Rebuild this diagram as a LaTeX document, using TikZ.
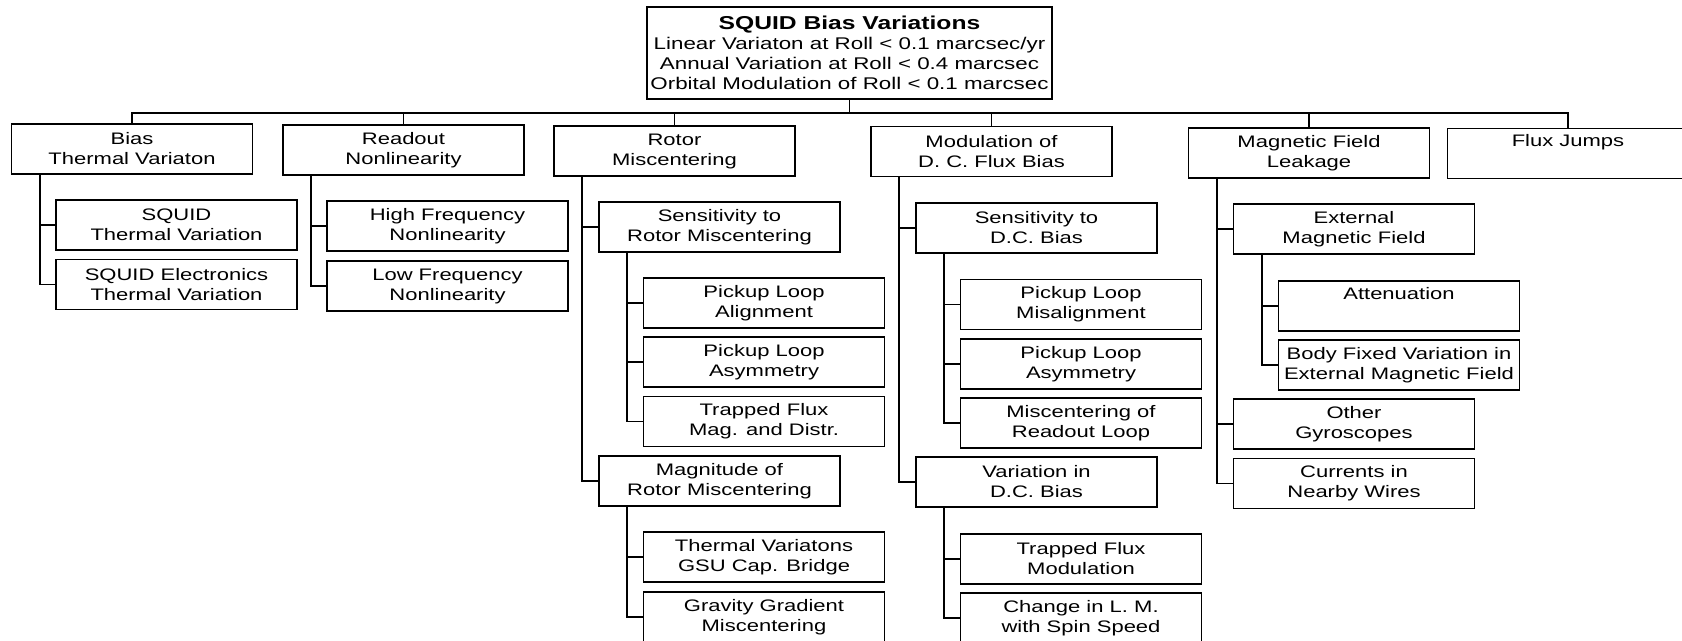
\documentclass[tikz,border=0pt]{standalone}
\usepackage{fontspec}
\setmainfont{Liberation Sans}[FakeStretch=1.32]
\usetikzlibrary{calc}
\begin{document}
\begin{tikzpicture}[x=0.75pt,y=-0.75pt,
  box/.style={draw, line width=1.3pt, minimum width=180.75pt, minimum height=37.5pt,
    inner sep=0pt, align=center, font=\fontsize{12.5pt}{15pt}\selectfont},
  link/.style={line width=1.3pt}]
\clip (0,0) rectangle (1682,640);
% root
\node[box, minimum width=303.75pt, minimum height=69pt, font=\fontsize{12.7pt}{15pt}\selectfont] (top) at (849.5,53)
  {{\fontsize{14pt}{16pt}\selectfont\bfseries SQUID Bias Variations}\\
   Linear Variaton at Roll < 0.1 marcsec/yr\\
   Annual Variation at Roll < 0.4 marcsec\\
   Orbital Modulation of Roll < 0.1 marcsec};
% level 1
\node[box] (bias)    at (132,149)    {Bias\\Thermal Variaton};
\node[box] (readout) at (403.5,150)  {Readout\\Nonlinearity};
\node[box] (rotor)   at (674.5,151)  {Rotor\\Miscentering};
\node[box] (modul)   at (991.5,151.5){Modulation of\\D. C. Flux Bias};
\node[box] (magf)    at (1309,153)   {Magnetic Field\\Leakage};
\node[box] (flux)    at (1568,153.5) {Flux Jumps\\\strut};
% bias children
\node[box] (sqt) at (176.5,225)   {SQUID\\Thermal Variation};
\node[box] (sqe) at (176.5,284.5) {SQUID Electronics\\Thermal Variation};
% readout children
\node[box] (hf) at (447.5,226) {High Frequency\\Nonlinearity};
\node[box] (lf) at (447.5,286) {Low Frequency\\Nonlinearity};
% rotor children
\node[box] (sens) at (719.5,227) {Sensitivity to\\Rotor Miscentering};
\node[box] (pla)  at (764,303)   {Pickup Loop\\Alignment};
\node[box] (pasy) at (764,362)   {Pickup Loop\\Asymmetry};
\node[box] (tf)   at (764,421.5) {Trapped Flux\\Mag. and Distr.};
\node[box] (mag)  at (719.5,481) {Magnitude of\\Rotor Miscentering};
\node[box] (tv)   at (764,557)   {Thermal Variatons\\GSU Cap. Bridge};
\node[box] (gg)   at (764,617)   {Gravity Gradient\\Miscentering};
% modulation children
\node[box] (sdc)  at (1036.5,228) {Sensitivity to\\D.C. Bias};
\node[box] (plm)  at (1081,304.5) {Pickup Loop\\Misalignment};
\node[box] (pla2) at (1081,364)   {Pickup Loop\\Asymmetry};
\node[box] (mro)  at (1081,423)   {Miscentering of\\Readout Loop};
\node[box] (vdc)  at (1036.5,482) {Variation in\\D.C. Bias};
\node[box] (tfm)  at (1081,559)   {Trapped Flux\\Modulation};
\node[box] (clm)  at (1081,618)   {Change in L. M.\\with Spin Speed};
% magnetic children
\node[box] (ext) at (1354,229)   {External\\Magnetic Field};
\node[box] (att) at (1399,306)   {Attenuation\\\strut};
\node[box] (bfv) at (1399,365)   {Body Fixed Variation in\\External Magnetic Field};
\node[box] (og)  at (1354,424)   {Other\\Gyroscopes};
\node[box] (cur) at (1354,483.5) {Currents in\\Nearby Wires};
% bus
\coordinate (bus) at (0,113);
\draw[link] (top.south) -- (top.south |- bus);
\draw[link] (bias.north) -- (bias.north |- bus) -- (flux.north |- bus) -- (flux.north);
\foreach \n in {readout,rotor,modul,magf} \draw[link] (\n.north) -- (\n.north |- bus);
% trunks
\foreach \p/\c in {bias/sqt,bias/sqe,readout/hf,readout/lf,rotor/sens,rotor/mag,
  sens/pla,sens/pasy,sens/tf,mag/tv,mag/gg,modul/sdc,modul/vdc,sdc/plm,sdc/pla2,sdc/mro,
  vdc/tfm,vdc/clm,magf/ext,magf/og,magf/cur,ext/att,ext/bfv}
  \draw[link] ($(\p.south west)+(29,0)$) |- (\c.west);
\end{tikzpicture}
\end{document}
